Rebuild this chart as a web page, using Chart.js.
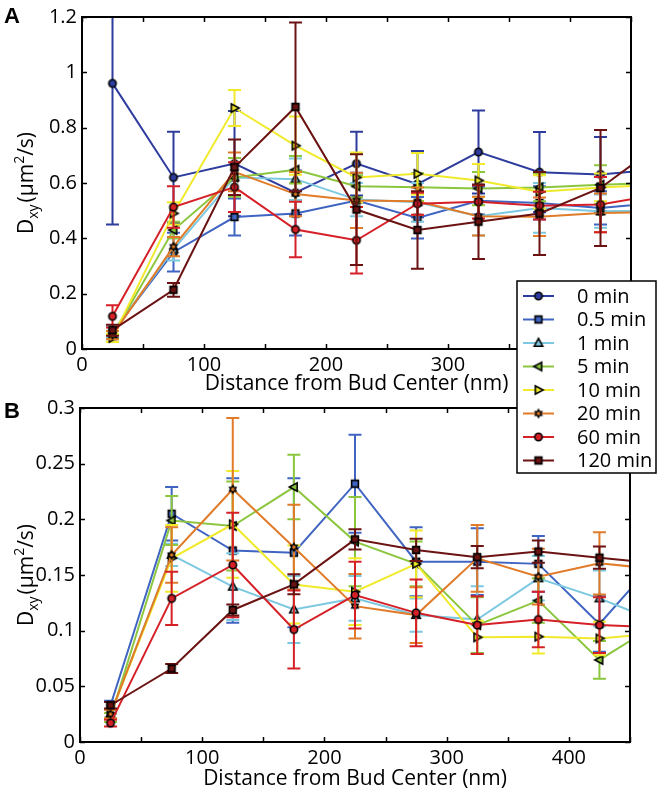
<!DOCTYPE html>
<html>
<head>
<meta charset="utf-8">
<script src="https://cdn.jsdelivr.net/npm/chart.js@4.4.1/dist/chart.umd.min.js"></script>
<style>
html,body{margin:0;padding:0;background:#fff;}
#wrap{position:relative;width:660px;height:789px;overflow:hidden;}
canvas{position:absolute;left:0;top:0;}
#cA{z-index:2;}
#cB{z-index:1;}
</style>
</head>
<body>
<div id="wrap">
<canvas id="cB" width="660" height="789"></canvas>
<canvas id="cA" width="660" height="789"></canvas>
</div>
<script>
// ---------------- DATA ----------------
const distances = [25, 75, 125, 175, 225, 275, 325, 375, 425, 475];
const seriesNames = ['0 min', '0.5 min', '1 min', '5 min', '10 min', '20 min', '60 min', '120 min'];
const xTicks = [0, 50, 100, 150, 200, 250, 300, 350, 400, 450];
const yTicksA = [0, 0.2, 0.4, 0.6, 0.8, 1, 1.2];
const yTicksB = [0, 0.05, 0.1, 0.15, 0.2, 0.25, 0.3];

// Panel A : mean values and error half-widths
const a0   = [0.96, 0.62, 0.67, 0.565, 0.67, 0.596, 0.712, 0.639, 0.631, 0.651];
const a0e  = [0.51, 0.165, 0.19, 0.08, 0.115, 0.12, 0.15, 0.145, 0.135, 0.13];
const a05  = [0.06, 0.35, 0.477, 0.49, 0.537, 0.474, 0.536, 0.528, 0.51, 0.53];
const a05e = [0.02, 0.07, 0.067, 0.08, 0.1, 0.075, 0.05, 0.06, 0.06, 0.06];
const a1   = [0.06, 0.36, 0.62, 0.614, 0.54, 0.53, 0.48, 0.51, 0.498, 0.5];
const a1e  = [0.02, 0.04, 0.07, 0.075, 0.06, 0.07, 0.07, 0.09, 0.06, 0.06];
const a5   = [0.05, 0.43, 0.62, 0.648, 0.588, 0.585, 0.58, 0.584, 0.594, 0.6];
const a5e  = [0.015, 0.03, 0.07, 0.05, 0.04, 0.05, 0.06, 0.05, 0.07, 0.06];
const a10  = [0.04, 0.49, 0.871, 0.735, 0.62, 0.633, 0.609, 0.568, 0.584, 0.595];
const a10e = [0.015, 0.04, 0.065, 0.105, 0.09, 0.075, 0.06, 0.06, 0.05, 0.05];
const a20  = [0.05, 0.37, 0.64, 0.56, 0.537, 0.534, 0.48, 0.478, 0.492, 0.495];
const a20e = [0.015, 0.035, 0.07, 0.08, 0.1, 0.05, 0.07, 0.07, 0.07, 0.06];
const a60  = [0.118, 0.513, 0.585, 0.432, 0.393, 0.525, 0.532, 0.518, 0.522, 0.56];
const a60e = [0.04, 0.075, 0.09, 0.1, 0.12, 0.04, 0.06, 0.05, 0.1, 0.06];
const a120 = [0.068, 0.214, 0.657, 0.875, 0.504, 0.43, 0.46, 0.49, 0.582, 0.745];
const a120e= [0.02, 0.025, 0.1, 0.305, 0.2, 0.14, 0.135, 0.15, 0.21, 0.1];

// Panel B : mean values and error half-widths (no 0 min series)
const b05  = [0.033, 0.205, 0.172, 0.170, 0.232, 0.162, 0.162, 0.160, 0.106, 0.168];
const b05e = [0.004, 0.024, 0.065, 0.067, 0.044, 0.031, 0.03, 0.025, 0.025, 0.02];
const b1   = [0.025, 0.168, 0.1395, 0.119, 0.129, 0.114, 0.11, 0.147, 0.129, 0.107];
const b1e  = [0.004, 0.01, 0.03, 0.03, 0.02, 0.015, 0.03, 0.02, 0.025, 0.02];
const b5   = [0.022, 0.199, 0.194, 0.229, 0.18, 0.16, 0.105, 0.127, 0.0737, 0.108];
const b5e  = [0.004, 0.022, 0.04, 0.029, 0.04, 0.02, 0.025, 0.02, 0.017, 0.02];
const b10  = [0.025, 0.165, 0.1955, 0.1415, 0.135, 0.16, 0.094, 0.0946, 0.093, 0.098];
const b10e = [0.004, 0.03, 0.048, 0.035, 0.03, 0.03, 0.015, 0.015, 0.015, 0.015];
const b20  = [0.025, 0.168, 0.227, 0.175, 0.122, 0.114, 0.165, 0.1485, 0.1605, 0.155];
const b20e = [0.004, 0.025, 0.064, 0.038, 0.029, 0.025, 0.03, 0.025, 0.028, 0.02];
const b60  = [0.017, 0.129, 0.159, 0.101, 0.132, 0.116, 0.105, 0.11, 0.105, 0.103];
const b60e = [0.003, 0.024, 0.047, 0.035, 0.03, 0.03, 0.026, 0.025, 0.025, 0.02];
const b120 = [0.033, 0.066, 0.1186, 0.1416, 0.182, 0.1725, 0.166, 0.171, 0.1656, 0.16];
const b120e= [0.003, 0.004, 0.005, 0.009, 0.009, 0.01, 0.01, 0.01, 0.01, 0.01];

// ---------------- STYLE ----------------
const colors = ['#2e3c9e', '#3f64c1', '#7cc8e0', '#8cc63e', '#f0ea2a', '#e07b29', '#d62027', '#6b1212'];
const markerKinds = ['circle', 'square', 'triUp', 'triLeft', 'triRight', 'star', 'circle', 'square'];
const FONT = '"Open Sans", "DejaVu Sans", sans-serif';

function makeMarker(kind, color) {
  const s = 16, c = document.createElement('canvas');
  c.width = s; c.height = s;
  const g = c.getContext('2d');
  g.translate(s / 2, s / 2);
  g.fillStyle = color; g.strokeStyle = '#000'; g.lineWidth = 1.6; g.lineJoin = 'miter';
  g.beginPath();
  if (kind === 'circle') { g.arc(0, 0, 3.7, 0, Math.PI * 2); }
  else if (kind === 'square') { g.rect(-3.4, -3.4, 6.8, 6.8); }
  else if (kind === 'triUp') { g.moveTo(0, -4.6); g.lineTo(4.2, 3.2); g.lineTo(-4.2, 3.2); g.closePath(); }
  else if (kind === 'triLeft') { g.moveTo(-4.6, 0); g.lineTo(3.2, -4.2); g.lineTo(3.2, 4.2); g.closePath(); }
  else if (kind === 'triRight') { g.moveTo(4.6, 0); g.lineTo(-3.2, -4.2); g.lineTo(-3.2, 4.2); g.closePath(); }
  else if (kind === 'star') {
    const r = 5.2;
    for (let k = 0; k < 2; k++) {
      const off = k === 0 ? -Math.PI / 2 : Math.PI / 2;
      for (let j = 0; j < 3; j++) {
        const a = off + j * 2 * Math.PI / 3;
        const px = r * Math.cos(a), py = r * Math.sin(a);
        if (j === 0) g.moveTo(px, py); else g.lineTo(px, py);
      }
      g.closePath();
    }
    g.fillStyle = '#000'; g.fill();
    g.beginPath(); g.arc(0, 0, 1.8, 0, Math.PI * 2); g.fillStyle = color; g.fill();
    return c;
  }
  g.fill(); g.stroke();
  return c;
}
const markers = colors.map((c, i) => makeMarker(markerKinds[i], c));

function buildDatasets(valsList, errList, seriesIdx) {
  return valsList.map((vals, k) => {
    const i = seriesIdx[k];
    return {
      label: seriesNames[i],
      data: distances.map((d, j) => ({ x: d, y: vals[j] })),
      errors: errList[k],
      borderColor: colors[i],
      backgroundColor: colors[i],
      borderWidth: 2,
      pointStyle: markers[i],
      pointRadius: 5,
      pointHoverRadius: 5,
      tension: 0,
      order: 20 - i,
      seriesIndex: i
    };
  });
}

const errorBarPlugin = {
  id: 'errorBars',
  beforeDatasetDraw(chart, args) {
    const ds = chart.data.datasets[args.index];
    if (!ds.errors) return;
    const xs = chart.scales.x, ys = chart.scales.y, ca = chart.chartArea;
    const ctx = chart.ctx;
    ctx.save();
    ctx.beginPath(); ctx.rect(ca.left, ca.top - 1, ca.right - ca.left, ca.bottom - ca.top + 2); ctx.clip();
    ctx.strokeStyle = ds.borderColor; ctx.lineWidth = 2;
    ds.data.forEach((p, j) => {
      const e = ds.errors[j];
      const px = xs.getPixelForValue(p.x);
      const y1 = ys.getPixelForValue(p.y + e), y2 = ys.getPixelForValue(p.y - e);
      ctx.beginPath();
      ctx.moveTo(px, y1); ctx.lineTo(px, y2);
      ctx.moveTo(px - 6.5, y1); ctx.lineTo(px + 6.5, y1);
      ctx.moveTo(px - 6.5, y2); ctx.lineTo(px + 6.5, y2);
      ctx.stroke();
    });
    ctx.restore();
  }
};

function drawYTitle(ctx, bx, cy) {
  const parts = [
    { t: 'D', f: '21px ' + FONT, dy: 0, gap: 0 },
    { t: 'xy', f: '14px ' + FONT, dy: 5, gap: 0 },
    { t: '(μm', f: '21px ' + FONT, dy: 0, gap: 2 },
    { t: '2', f: '14px ' + FONT, dy: -9, gap: 0 },
    { t: '/s)', f: '21px ' + FONT, dy: 0, gap: 0 }
  ];
  ctx.save();
  let total = 0;
  parts.forEach(p => { ctx.font = p.f; p.w = ctx.measureText(p.t).width; total += p.w + p.gap; });
  ctx.translate(bx, cy);
  ctx.rotate(-Math.PI / 2);
  ctx.fillStyle = '#000'; ctx.textBaseline = 'alphabetic'; ctx.textAlign = 'left';
  let x = -total / 2;
  parts.forEach(p => { x += p.gap; ctx.font = p.f; ctx.fillText(p.t, x, p.dy); x += p.w; });
  ctx.restore();
}

function framePlugin(opts) {
  return {
    id: 'frame' + opts.letter,
    afterDraw(chart) {
      const ctx = chart.ctx, ca = chart.chartArea, xs = chart.scales.x, ys = chart.scales.y;
      ctx.save();
      ctx.strokeStyle = '#000'; ctx.lineWidth = 2;
      ctx.strokeRect(ca.left, ca.top, ca.right - ca.left, ca.bottom - ca.top);
      ctx.lineWidth = 1.5;
      ctx.beginPath();
      xTicks.forEach(v => {
        const px = Math.round(xs.getPixelForValue(v)) + 0.5;
        ctx.moveTo(px, ca.bottom); ctx.lineTo(px, ca.bottom - 5);
        ctx.moveTo(px, ca.top); ctx.lineTo(px, ca.top + 5);
      });
      opts.yTicks.forEach(v => {
        const py = Math.round(ys.getPixelForValue(v)) + 0.5;
        ctx.moveTo(ca.left, py); ctx.lineTo(ca.left + 5, py);
        ctx.moveTo(ca.right, py); ctx.lineTo(ca.right - 5, py);
      });
      ctx.stroke();
      // x title
      ctx.fillStyle = '#000';
      ctx.font = '21px ' + FONT; ctx.textAlign = 'center'; ctx.textBaseline = 'alphabetic';
      ctx.fillText('Distance from Bud Center (nm)', (ca.left + ca.right) / 2, opts.xTitleBase);
      // y title
      drawYTitle(ctx, opts.yTitleX, (ca.top + ca.bottom) / 2);
      // panel letter
      ctx.font = 'bold 22px "Liberation Sans", Arial, sans-serif';
      ctx.textAlign = 'left';
      ctx.fillText(opts.letter, opts.letterX, opts.letterY);
      ctx.restore();
    }
  };
}

const legendPlugin = {
  id: 'customLegend',
  afterDraw(chart) {
    const ctx = chart.ctx;
    const bx = 517, by = 281, bw = 139, bh = 192;
    ctx.save();
    ctx.fillStyle = '#fff'; ctx.fillRect(bx, by, bw, bh);
    ctx.strokeStyle = '#000'; ctx.lineWidth = 1.5; ctx.strokeRect(bx, by, bw, bh);
    ctx.font = '20px ' + FONT; ctx.textBaseline = 'middle'; ctx.textAlign = 'left';
    seriesNames.forEach((name, i) => {
      const y = 296 + i * 23.5;
      ctx.strokeStyle = colors[i]; ctx.lineWidth = 2;
      ctx.beginPath(); ctx.moveTo(523, y); ctx.lineTo(554, y); ctx.stroke();
      ctx.drawImage(markers[i], 538.5 - 8, y - 8);
      ctx.fillStyle = '#000';
      ctx.fillText(name, 577, y + 1);
    });
    ctx.restore();
  }
};

function makeOptions(yMax, yStep, pad, yWidth, xHeight) {
  return {
    responsive: false,
    animation: false,
    layout: { padding: pad },
    plugins: { legend: { display: false }, tooltip: { enabled: false } },
    scales: {
      x: {
        type: 'linear', min: 0, max: 450,
        grid: { display: false, drawTicks: false },
        border: { display: false },
        afterFit: s => { s.height = xHeight; },
        ticks: {
          stepSize: 50, autoSkip: false, maxRotation: 0, padding: 4,
          color: '#000', font: { size: 20, family: FONT },
          callback: v => (v % 100 === 0 ? String(v) : '')
        }
      },
      y: {
        type: 'linear', min: 0, max: yMax,
        grid: { display: false, drawTicks: false },
        border: { display: false },
        afterFit: s => { s.width = yWidth; },
        ticks: {
          stepSize: yStep, autoSkip: false, padding: 5,
          color: '#000', font: { size: 20, family: FONT },
          callback: v => String(+v.toFixed(3))
        }
      }
    }
  };
}

Chart.defaults.font.family = FONT;

// Panel A: chart area x 82..631, y 14..349
new Chart(document.getElementById('cA'), {
  type: 'line',
  data: {
    datasets: buildDatasets([a0, a05, a1, a5, a10, a20, a60, a120],
                            [a0e, a05e, a1e, a5e, a10e, a20e, a60e, a120e],
                            [0, 1, 2, 3, 4, 5, 6, 7])
  },
  options: makeOptions(1.2, 0.2, { left: 0, right: 29, top: 14, bottom: 390 }, 82, 50),
  plugins: [errorBarPlugin,
            framePlugin({ letter: 'A', yTicks: yTicksA, xTitleBase: 390, yTitleX: 33, letterX: 4, letterY: 23 }),
            legendPlugin]
});

// Panel B: chart area x 80..630, y 408..742
new Chart(document.getElementById('cB'), {
  type: 'line',
  data: {
    datasets: buildDatasets([b05, b1, b5, b10, b20, b60, b120],
                            [b05e, b1e, b5e, b10e, b20e, b60e, b120e],
                            [1, 2, 3, 4, 5, 6, 7])
  },
  options: makeOptions(0.3, 0.05, { left: 0, right: 30, top: 408, bottom: 0 }, 80, 47),
  plugins: [errorBarPlugin,
            framePlugin({ letter: 'B', yTicks: yTicksB, xTitleBase: 785, yTitleX: 33, letterX: 4, letterY: 418 })]
});
</script>
</body>
</html>
